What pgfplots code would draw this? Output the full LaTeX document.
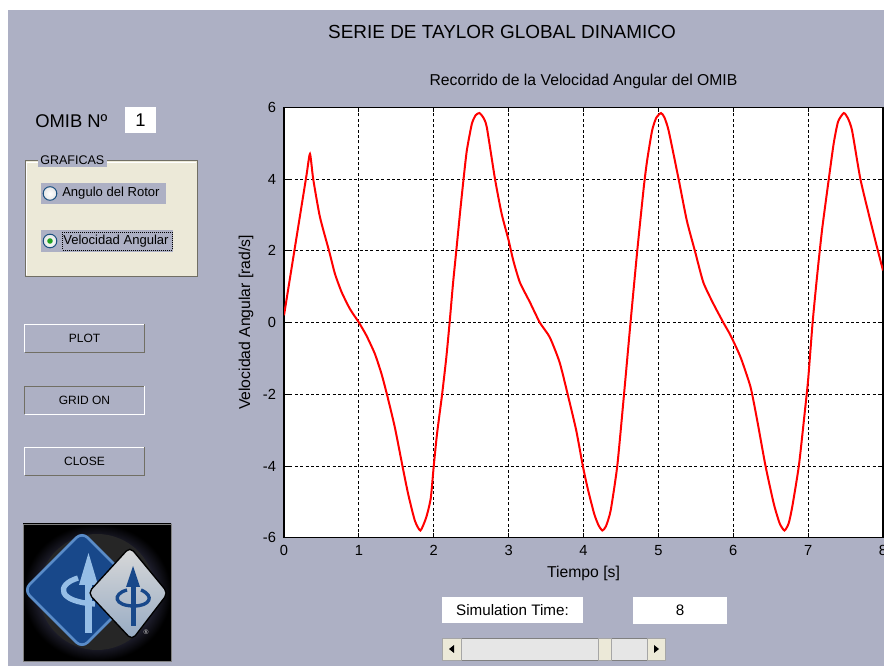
\documentclass[border=0pt]{standalone}
\usepackage{pgfplots}
\pgfplotsset{compat=1.18}
\usepackage{fontspec}
\setmainfont{Liberation Sans}
\definecolor{guibg}{RGB}{173,176,196}
\definecolor{panelbg}{RGB}{236,233,216}
\definecolor{trough}{RGB}{230,230,230}
\definecolor{btndark}{RGB}{113,111,100}
\definecolor{radioedge}{RGB}{28,81,128}
\definecolor{radiogreen}{RGB}{33,161,33}
\definecolor{logoblue}{RGB}{24,72,138}
\definecolor{logoedge}{RGB}{90,140,200}
\definecolor{logosilver}{RGB}{150,170,195}
\definecolor{logopale}{RGB}{150,190,230}

\begin{document}
\begin{tikzpicture}
\path[use as bounding box] (0,0) rectangle (663pt,499.5pt);
\clip (0,0) rectangle (663pt,499.5pt);
\begin{scope}[shift={(0,499.5pt)}, x=0.75pt, y=-0.75pt]
\fill[white] (0,0) rectangle (884,666);
\fill[guibg] (8,10) rectangle (884,666);

% main title
\node[font=\fontsize{14.2}{16}\selectfont] at (502,32) {SERIE DE TAYLOR GLOBAL DINAMICO};

% OMIB number
\node[anchor=west, inner sep=0pt, font=\fontsize{13.8}{16}\selectfont] at (35,121) {OMIB Nº};
\fill[white] (125,107) rectangle (156,133);
\node[font=\fontsize{13.8}{16}\selectfont] at (140.5,120) {1};

% GRAFICAS panel
\fill[panelbg] (25,161) rectangle (197,277);
\draw[btndark, line width=0.75pt] (25,277) -- (25,161) -- (197,161) -- (197,277) -- cycle;
\draw[white, line width=0.75pt] (26.5,275.5) -- (26.5,162.5) -- (195.5,162.5);
\fill[guibg] (38,154) rectangle (107,167);
\node[anchor=west, inner sep=0pt, font=\fontsize{9.4}{11}\selectfont] at (40,160) {GRAFICAS};

% radio 1
\fill[guibg] (41,183) rectangle (166,204);
\shade[inner color=white, outer color=gray!20, draw=radioedge, line width=0.75pt] (50,193.5) circle (6.8);
\node[anchor=west, inner sep=0pt, font=\fontsize{9.8}{11}\selectfont] at (62,193.5) {Angulo del Rotor};
% radio 2
\fill[guibg] (41,230) rectangle (173,252);
\shade[inner color=white, outer color=gray!20, draw=radioedge, line width=0.75pt] (50,241) circle (6.8);
\fill[radiogreen] (50,241) circle (2.8);
\node[anchor=west, inner sep=0pt, font=\fontsize{9.8}{11}\selectfont] at (63,241) {Velocidad Angular};
\draw[black, line width=0.5pt, dash pattern=on 0.75pt off 0.75pt] (62,232.5) rectangle (172,250);

% buttons
\foreach \yy/\lab/\sunk in {324/PLOT/0, 386/GRID ON/1, 447/CLOSE/0}{
  \fill[guibg] (24,\yy) rectangle (145,\yy+29);
  \ifnum\sunk=0
    \draw[white, line width=1.2pt] (24.5,\yy+28.5) -- (24.5,\yy+0.5) -- (144.5,\yy+0.5);
    \draw[btndark, line width=1.2pt] (24.5,\yy+28.5) -- (144.5,\yy+28.5) -- (144.5,\yy+0.5);
  \else
    \draw[btndark, line width=1.2pt] (24.5,\yy+28.5) -- (24.5,\yy+0.5) -- (144.5,\yy+0.5);
    \draw[white, line width=1.2pt] (24.5,\yy+28.5) -- (144.5,\yy+28.5) -- (144.5,\yy+0.5);
  \fi
  \node[font=\fontsize{9}{11}\selectfont] at (84.5,\yy+14.5) {\lab};
}

% logo (approximate drawing)
\begin{scope}
\clip (23,524) rectangle (171,661);
\shade[inner color=gray!55!blue!60!white, outer color=black] (23,524) rectangle (171,661);
\fill[black!85] (97,592) circle (58);
\fill[logoblue, draw=logoedge, line width=2pt, rounded corners=6] (82,532) -- (140,590) -- (82,648) -- (24,590) -- cycle;
\fill[logopale] (85,633) rectangle (92,583);
\fill[logopale] (79,585) -- (88.5,553) -- (98,585) -- cycle;
\draw[logopale, line width=4pt] (78,578) .. controls (55,585) and (58,602) .. (95,604);
\shade[top color=gray!30, bottom color=logosilver, draw=black, line width=1pt, rounded corners=4] (130,547) -- (168,593) -- (132,640) -- (88,593) -- cycle;
\fill[logoblue] (130.5,626) rectangle (135.5,585);
\fill[logoblue] (126,587) -- (133,566) -- (140,587) -- cycle;
\draw[logoblue, line width=2.5pt] (127,590) .. controls (112,594) and (114,606) .. (134,606) .. controls (150,606) and (155,596) .. (141,590);
\node[white!70!gray, font=\fontsize{5}{6}\selectfont] at (146,632) {®};
\end{scope}
\draw[gray, line width=0.5pt] (23,524) rectangle (171,661);

% simulation time controls
\fill[white] (442,597) rectangle (583,623);
\node[font=\fontsize{11.4}{13}\selectfont] at (512.5,610) {Simulation Time:};
\fill[white] (633,597) rectangle (727,624);
\node[font=\fontsize{11.4}{13}\selectfont] at (680,610) {8};

% slider
\fill[trough] (442,638) rectangle (665,660);
\draw[gray, line width=0.6pt] (442,638) rectangle (665,660);
\fill[panelbg, draw=gray!70, line width=0.6pt] (442,638) rectangle (461,660);
\fill[black] (449,649) -- (454,645) -- (454,653) -- cycle;
\fill[panelbg, draw=gray!70, line width=0.6pt] (647,638) rectangle (665,660);
\fill[black] (659,649) -- (654,645) -- (654,653) -- cycle;
\fill[panelbg, draw=gray!70, line width=0.6pt] (598,638) rectangle (611,660);
\end{scope}

\begin{axis}[
  at={(213pt,96.225pt)}, anchor=south west,
  scale only axis, width=449.25pt, height=322.8pt,
  xmin=0, xmax=8, ymin=-6, ymax=6,
  axis background/.style={fill=white},
  xtick={0,1,2,3,4,5,6,7,8},
  xticklabels={0,1,2,3,4,5,6,7,8},
  ytick={-6,-4,-2,0,2,4,6},
  yticklabels={-6,-4,-2,0,2,4,6},
  tick label style={font=\fontsize{11}{13}\selectfont},
  xticklabel style={yshift=-2.5pt},
  yticklabel style={xshift=-2.5pt},
  tick align=inside, major tick length=3.5pt,
  tick style={black, line width=0.6pt},
  axis line style={black, line width=0.8pt},
  grid=major,
  major grid style={black, line width=0.6pt, dash pattern=on 2.25pt off 1.8pt},
  title={Recorrido de la Velocidad Angular del OMIB},
  title style={font=\fontsize{11.8}{14}\selectfont, at={(axis description cs:0.5,1.0425)}, anchor=center},
  xlabel={Tiempo [s]},
  xlabel style={font=\fontsize{11.8}{14}\selectfont, at={(axis description cs:0.5,-0.082)}, anchor=center},
  ylabel={Velocidad Angular [rad/s]},
  ylabel style={font=\fontsize{11.8}{14}\selectfont, at={(axis description cs:-0.0634,0.5)}, anchor=center},
]
\addplot[red, line width=1.5pt, smooth, tension=0.35] coordinates {
(0,0.2) (0.1,1.5) (0.2,2.8) (0.3,4.1) (0.347,4.7)
(0.39,4.0) (0.48,2.94) (0.604,1.98) (0.68,1.36) (0.769,0.85) (0.88,0.38)
(1.0,0.0) (1.10,-0.36) (1.213,-0.87) (1.302,-1.43) (1.378,-2.03) (1.48,-2.92)
(1.582,-4.0) (1.658,-4.78) (1.747,-5.52) (1.822,-5.80) (1.90,-5.43) (1.96,-4.9)
(2.0,-4.0) (2.044,-3.10) (2.11,-2.03) (2.168,-0.97) (2.212,0) (2.257,1.08)
(2.30,1.98) (2.354,3.12) (2.398,4.0) (2.442,4.80) (2.509,5.54) (2.56,5.78)
(2.611,5.84) (2.66,5.72) (2.708,5.45) (2.818,4.0) (2.907,3.03) (3.0,2.29)
(3.062,1.73) (3.15,1.12) (3.283,0.57) (3.416,0) (3.549,-0.41) (3.681,-1.11)
(3.792,-2.03) (3.903,-3.01) (3.991,-4.0) (4.053,-4.6) (4.142,-5.33) (4.20,-5.65)
(4.252,-5.80) (4.30,-5.68) (4.363,-5.24) (4.451,-4.0) (4.54,-2.03) (4.628,0)
(4.717,1.98) (4.805,3.77) (4.85,4.52) (4.916,5.35) (4.97,5.70) (5.035,5.84)
(5.08,5.72) (5.137,5.35) (5.27,4.0) (5.38,2.84) (5.49,1.98) (5.60,1.12)
(5.735,0.52) (5.867,0) (5.964,-0.36) (6.098,-0.97) (6.231,-1.80) (6.32,-2.73)
(6.431,-4.0) (6.542,-5.06) (6.62,-5.6) (6.684,-5.80) (6.74,-5.6) (6.787,-5.15)
(6.876,-4.0) (6.95,-2.6) (7.0,-1.6) (7.06,0) (7.12,1.3) (7.187,2.6)
(7.276,4.0) (7.342,5.0) (7.40,5.6) (7.476,5.84) (7.53,5.7) (7.587,5.35)
(7.698,4.0) (7.831,2.84) (7.92,2.10) (8.0,1.45)
};
\end{axis}
\end{tikzpicture}
\end{document}
